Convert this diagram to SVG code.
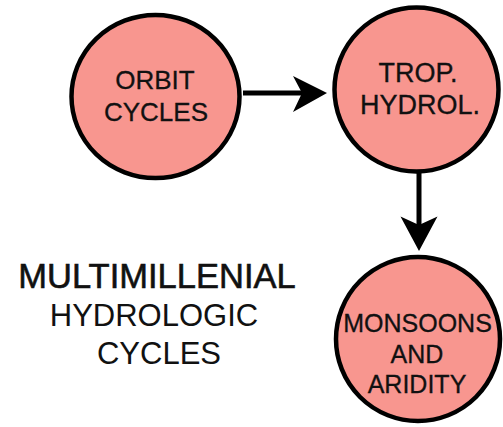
<svg xmlns="http://www.w3.org/2000/svg" width="503" height="427" viewBox="0 0 503 427">
<style>
.node{fill:#F8968F;stroke:#000;stroke-width:4.5}
.lbl{font-family:"Liberation Sans",Arial,sans-serif;fill:#111;text-anchor:middle;stroke:#111;stroke-width:0.3}
.edge{stroke:#000;stroke-width:5;fill:none}
.head{fill:#000}
</style>
<rect width="503" height="427" fill="#fff"/>
<g id="connectors">
<line class="edge" x1="243" y1="93" x2="305" y2="93"/>
<path class="head" d="M327,93 L293,76 L302,93 L293,112 Z"/>
<line class="edge" x1="419" y1="173" x2="419" y2="228"/>
<path class="head" d="M419,251 L400.5,216.5 L419,225 L437.5,216.5 Z"/>
</g>
<g id="orbit">
<ellipse class="node" cx="155.5" cy="96.5" rx="84" ry="81.5"/>
<text class="lbl" x="155" y="89" font-size="26">ORBIT</text>
<text class="lbl" x="156" y="121" font-size="26">CYCLES</text>
</g>
<g id="trop">
<circle class="node" cx="416.5" cy="89.5" r="82"/>
<text class="lbl" x="418" y="82" font-size="27">TROP.</text>
<text class="lbl" x="420" y="114" font-size="27">HYDROL.</text>
</g>
<g id="monsoons">
<circle class="node" cx="418" cy="339" r="82"/>
<text class="lbl" x="417.5" y="331.5" font-size="25">MONSOONS</text>
<text class="lbl" x="417" y="363" font-size="25">AND</text>
<text class="lbl" x="417" y="392.5" font-size="25">ARIDITY</text>
</g>
<g id="title">
<text class="lbl" x="157" y="287.5" font-size="34.5" style="stroke-width:0.6">MULTIMILLENIAL</text>
<text class="lbl" x="154" y="326" font-size="31" style="stroke-width:0">HYDROLOGIC</text>
<text class="lbl" x="159" y="364" font-size="31" style="stroke-width:0">CYCLES</text>
</g>
</svg>
